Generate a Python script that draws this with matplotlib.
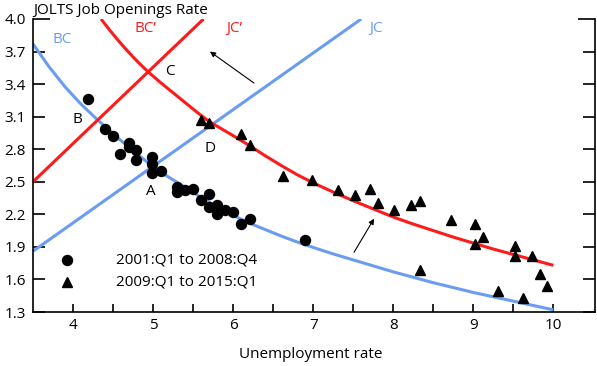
import matplotlib
matplotlib.use("Agg")
import matplotlib.pyplot as plt

plt.rcParams['font.family'] = ['Open Sans', 'DejaVu Sans']

# 2001:Q1 to 2008:Q4 (circles)
pre_u = [4.19, 4.40, 4.50, 4.70, 4.70, 4.59, 4.79, 4.79, 4.99, 4.99, 4.99, 5.10,
         5.30, 5.30, 5.40, 5.50, 5.60, 5.70, 5.70, 5.80, 5.80, 5.90, 6.00, 6.10, 6.21, 6.90]
pre_v = [3.26, 2.99, 2.92, 2.86, 2.82, 2.76, 2.79, 2.70, 2.73, 2.66, 2.58, 2.60,
         2.45, 2.41, 2.42, 2.43, 2.33, 2.39, 2.27, 2.29, 2.20, 2.24, 2.22, 2.11, 2.16, 1.96]

# 2009:Q1 to 2015:Q1 (triangles)
post_u = [5.60, 5.70, 6.10, 6.21, 6.62, 6.99, 7.31, 7.52, 7.71, 7.81, 8.01, 8.22, 8.33,
          8.72, 9.02, 9.02, 9.12, 9.52, 9.52, 9.73, 9.83, 9.92, 8.33, 9.31, 9.62]
post_v = [3.07, 3.04, 2.94, 2.84, 2.55, 2.52, 2.42, 2.38, 2.43, 2.30, 2.24, 2.29, 2.32,
          2.15, 2.11, 1.93, 1.99, 1.91, 1.82, 1.82, 1.65, 1.54, 1.69, 1.49, 1.43]

# Curves
bc_u = [3.5, 3.7, 3.9, 4.1, 4.3, 4.55, 4.8, 5.0, 5.2, 5.4, 5.6, 5.8, 6.0, 6.2, 6.4, 6.6,
        6.8, 7.0, 7.25, 7.5, 7.75, 8.0, 8.25, 8.5, 8.75, 9.0, 9.25, 9.5, 9.75, 10.0]
bc_v = [3.77, 3.56, 3.375, 3.215, 3.075, 2.91, 2.755, 2.64, 2.54, 2.45, 2.355, 2.27, 2.19,
        2.12, 2.06, 2.00, 1.945, 1.895, 1.835, 1.78, 1.725, 1.67, 1.62, 1.57, 1.525,
        1.48, 1.44, 1.40, 1.36, 1.32]

bcp_u = [4.35, 4.45, 4.55, 4.65, 4.75, 4.85, 4.95, 5.1, 5.25, 5.4, 5.55, 5.7, 5.85, 6.0,
         6.2, 6.4, 6.6, 6.8, 7.0, 7.25, 7.5, 7.75, 8.0, 8.25, 8.5, 8.75, 9.0, 9.25, 9.5,
         9.75, 10.0]
bcp_v = [4.00, 3.905, 3.815, 3.73, 3.65, 3.575, 3.505, 3.41, 3.32, 3.23, 3.14, 3.055,
         2.99, 2.925, 2.835, 2.74, 2.65, 2.565, 2.49, 2.405, 2.325, 2.25, 2.175, 2.11,
         2.05, 1.99, 1.935, 1.88, 1.83, 1.78, 1.73]

jc_u = [3.5, 7.6]
jc_v = [1.86, 4.0]

jcp_u = [3.5, 5.63]
jcp_v = [2.50, 4.0]

yticks = [1.3, 1.6, 1.9, 2.2, 2.5, 2.8, 3.1, 3.4, 3.7, 4.0]
xticks = [4, 5, 6, 7, 8, 9, 10]

blue = '#6a9cf2'
red = '#ff1a1a'

fig = plt.figure(figsize=(5.97, 3.66), dpi=100)
ax = fig.add_axes([33 / 597, 1 - 312 / 366, (595 - 33) / 597, (312 - 19) / 366])

ax.plot(bc_u, bc_v, color=blue, lw=2.2, solid_capstyle='butt', solid_joinstyle='round', zorder=2)
ax.plot(jc_u, jc_v, color=blue, lw=2.2, solid_capstyle='butt', zorder=2)
ax.plot(bcp_u, bcp_v, color=red, lw=2.2, solid_capstyle='butt', solid_joinstyle='round', zorder=2)
ax.plot(jcp_u, jcp_v, color=red, lw=2.2, solid_capstyle='butt', zorder=2)

ax.plot(pre_u, pre_v, 'o', color='black', ms=7.2, ls='none', zorder=3)
ax.plot(post_u, post_v, '^', color='black', ms=7.2, ls='none', zorder=3)

# legend drawn as text and markers
ax.plot([3.92], [1.78], 'o', color='black', ms=7.2, clip_on=False)
ax.plot([3.92], [1.58], '^', color='black', ms=7.2, clip_on=False)
ax.text(4.54, 1.78, '2001:Q1 to 2008:Q4', fontsize=11, va='center', ha='left')
ax.text(4.54, 1.58, '2009:Q1 to 2015:Q1', fontsize=11, va='center', ha='left')

# curve labels
ax.text(3.86, 3.81, 'BC', color=blue, fontsize=11, ha='center', va='center')
ax.text(4.90, 3.91, 'BC\u2019', color=red, fontsize=11, ha='center', va='center')
ax.text(6.02, 3.91, 'JC\u2019', color=red, fontsize=11, ha='center', va='center')
ax.text(7.79, 3.91, 'JC', color=blue, fontsize=11, ha='center', va='center')
ax.text(5.21, 3.52, 'C', fontsize=11, ha='center', va='center')
ax.text(4.05, 3.07, 'B', fontsize=11, ha='center', va='center')
ax.text(5.71, 2.81, 'D', fontsize=11, ha='center', va='center')
ax.text(4.97, 2.41, 'A', fontsize=11, ha='center', va='center')

arrow = dict(arrowstyle='-|>', color='black', lw=0.8, mutation_scale=8,
             shrinkA=0, shrinkB=0)
ax.annotate('', xy=(5.71, 3.70), xytext=(6.26, 3.41), arrowprops=arrow)
ax.annotate('', xy=(7.76, 2.16), xytext=(7.51, 1.85), arrowprops=arrow)

ax.set_xlim(3.5, 10.52)
ax.set_ylim(1.3, 4.0)
ax.set_xticks(xticks)
ax.set_xticks([4.5, 5.5, 6.5, 7.5, 8.5, 9.5], minor=True)
ax.set_yticks(yticks)
ax.set_yticklabels([f'{v:.1f}' for v in yticks])
ax.tick_params(axis='x', which='both', direction='in', length=6, width=1.2,
               labelsize=11, pad=4)
ax.tick_params(axis='y', which='both', direction='in', length=8.5, width=1.2,
               labelsize=11, pad=5, right=True)
for t in [ax.yaxis.get_major_ticks()[-1]]:
    t.tick1line.set_markersize(12.5)
    t.tick2line.set_markersize(12.5)

for s in ['left', 'bottom', 'right']:
    ax.spines[s].set_linewidth(1.2)
ax.spines['top'].set_visible(False)

fig.text(33 / 597, 1 - 10 / 366, 'JOLTS Job Openings Rate', fontsize=11,
         ha='left', va='center')
fig.text(311 / 597, 1 - 355 / 366, 'Unemployment rate', fontsize=11,
         ha='center', va='center')

fig.savefig('out.png', dpi=100)
